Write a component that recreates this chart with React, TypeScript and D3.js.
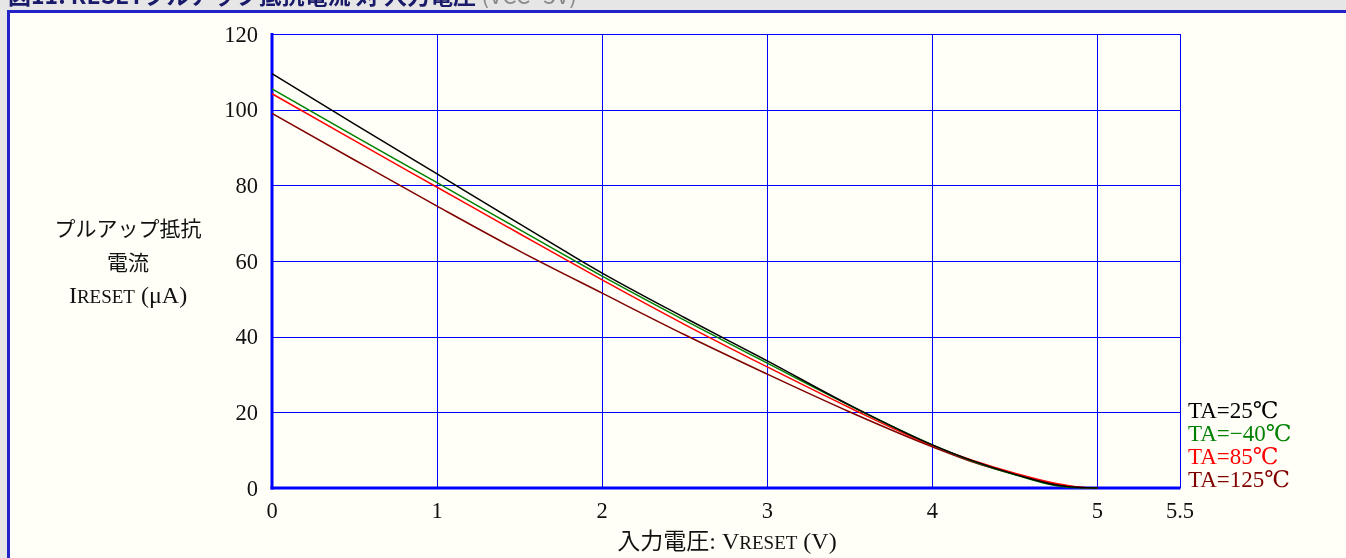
import React from "react";
import * as d3 from "d3";

const xTicks = [0, 1, 2, 3, 4, 5, 5.5];
const xTickLabels = ["0", "1", "2", "3", "4", "5", "5.5"];
const yTicks = [0, 20, 40, 60, 80, 100, 120];

const voltage = [0, 0.5, 1, 1.5, 2, 2.5, 3, 3.5, 4, 4.25, 4.5, 4.75, 4.9, 5];
const ta25 = [109.5, 96.2, 83, 69.8, 56.8, 45, 33.6, 21.9, 11.4, 7.1, 3.6, 0.8, 0.1, 0];
const taM40 = [105.5, 93, 80.7, 68.3, 56, 44.3, 33, 21.8, 11.4, 7.0, 3.5, 0.6, 0.05, 0];
const ta85 = [104.2, 91.8, 79.5, 67.2, 55, 43.2, 32, 21.2, 11.2, 7.2, 3.9, 1.2, 0.2, 0];
const ta125 = [99, 86.7, 74.5, 62.6, 51.5, 40.5, 30.1, 20.1, 10.9, 6.8, 3.6, 1.0, 0.15, 0];

const seriesNames = ["TA=25℃", "TA=−40℃", "TA=85℃", "TA=125℃"];
const seriesColors = ["#000000", "#008000", "#ff0000", "#800000"];
const seriesValues = [ta25, taM40, ta85, ta125];

const W = 1346;
const H = 558;
const serif = "'Liberation Serif', 'DejaVu Serif', 'Noto Sans CJK JP', serif";

export default function App() {
  const x = d3.scaleLinear().domain([0, 5.5]).range([272, 1180]);
  const y = d3.scaleLinear().domain([0, 120]).range([488, 34]);
  const line = d3
    .line<[number, number]>()
    .x((d) => x(d[0]))
    .y((d) => y(d[1]))
    .curve(d3.curveMonotoneX);

  const drawOrder = [3, 2, 1, 0];

  return (
    <div style={{ position: "fixed", left: 0, top: 0, width: W, height: H }}>
      <svg width={W} height={H} style={{ display: "block" }}>
        <rect x={0} y={0} width={W} height={H} fill="#e6e6e6" />
        <text x={8} y={4} fontFamily="'Noto Sans CJK JP', sans-serif" fontSize={23} fontWeight="bold" fill="#1a1a6a">
          図11. RESETプルアップ抵抗電流 対 入力電圧
          <tspan fontWeight="normal" fill="#8a8a8a"> (VCC=5V)</tspan>
        </text>
        <rect x={8.5} y={11.5} width={1400} height={600} fill="#fffff7" stroke="#2323c8" strokeWidth={3} />

        {/* grid */}
        {xTicks.map((t) => (
          <line key={"gx" + t} x1={Math.round(x(t)) + 0.5} x2={Math.round(x(t)) + 0.5} y1={y(120)} y2={y(0)} stroke="#0000ff" strokeWidth={1} />
        ))}
        {yTicks.map((t) => (
          <line key={"gy" + t} x1={x(0)} x2={x(5.5)} y1={Math.round(y(t)) + 0.5} y2={Math.round(y(t)) + 0.5} stroke="#0000ff" strokeWidth={1} />
        ))}
        <line x1={x(0)} x2={x(0)} y1={y(120) - 1} y2={y(0) + 1.5} stroke="#0000ff" strokeWidth={3} />
        <line x1={x(0) - 1.5} x2={x(5.5) + 0.5} y1={y(0)} y2={y(0)} stroke="#0000ff" strokeWidth={3} />

        {/* series */}
        {drawOrder.map((i) => (
          <path
            key={"s" + i}
            d={line(voltage.map((v, j) => [v, seriesValues[i][j]] as [number, number])) || ""}
            fill="none"
            stroke={seriesColors[i]}
            strokeWidth={1.5}
          />
        ))}

        {/* y tick labels */}
        {yTicks.map((t) => (
          <text key={"ty" + t} x={258} y={y(t) + 7.5} textAnchor="end" fontFamily={serif} fontSize={22.5} fill="#111">
            {t}
          </text>
        ))}
        {/* x tick labels */}
        {xTicks.map((t, i) => (
          <text key={"tx" + t} x={x(t)} y={518} textAnchor="middle" fontFamily={serif} fontSize={22.5} fill="#111">
            {xTickLabels[i]}
          </text>
        ))}

        {/* y axis title */}
        <g fontFamily={serif} fill="#111" textAnchor="middle">
          <text x={128} y={236} fontSize={21}>プルアップ抵抗</text>
          <text x={128} y={270} fontSize={21}>電流</text>
          <text x={128} y={303} fontSize={24}>
            I<tspan fontSize={19}>RESET</tspan> (μA)
          </text>
        </g>
        {/* x axis title */}
        <text x={727} y={549} textAnchor="middle" fontFamily={serif} fill="#111" fontSize={24}>
          <tspan fontSize={23}>入力電圧</tspan>: V<tspan fontSize={19}>RESET</tspan> (V)
        </text>

        {/* legend */}
        {seriesNames.map((n, i) => (
          <text key={"lg" + i} x={1188} y={418 + i * 23} fontFamily={serif} fontSize={23} fill={seriesColors[i]}>
            {n}
          </text>
        ))}
      </svg>
    </div>
  );
}
